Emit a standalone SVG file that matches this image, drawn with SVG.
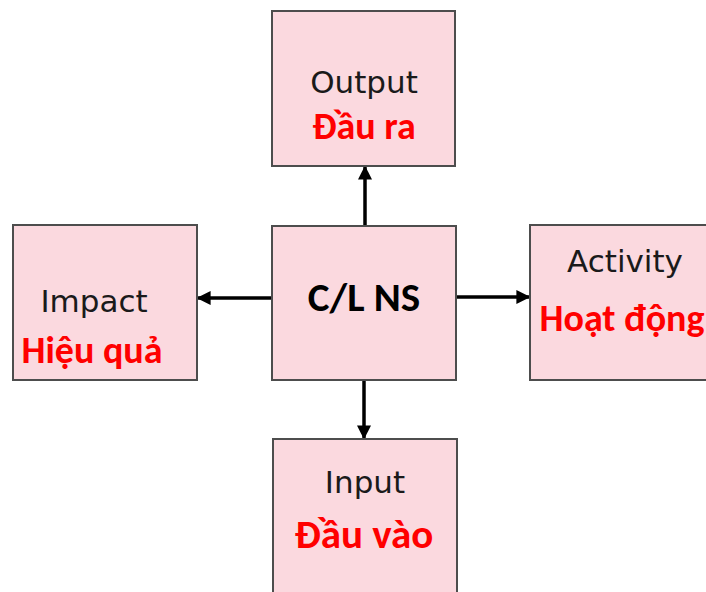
<svg xmlns="http://www.w3.org/2000/svg" width="706" height="592" viewBox="0 0 706 592">
  <defs>
    <marker id="arrow" viewBox="0 0 10 10" refX="9" refY="5" markerWidth="4" markerHeight="4" orient="auto" markerUnits="strokeWidth">
      <path d="M0,0 L10,5 L0,10 z" fill="#000"/>
    </marker>
    <style>
      .box { fill: #fbd9df; stroke: #4d4d4d; stroke-width: 2; }
      .en { font-family: "DejaVu Sans", Verdana, sans-serif; font-size: 31px; fill: #1a1a1a; text-anchor: middle; }
      .vi { font-family: Carlito, "Liberation Sans", Arial, sans-serif; font-weight: bold; font-size: 38px; fill: #ff0000; text-anchor: middle; }
      .hub { font-family: Carlito, "Liberation Sans", Arial, sans-serif; font-weight: bold; font-size: 41px; fill: #000; text-anchor: middle; }
      .link { stroke: #000; stroke-width: 3.5; fill: none; marker-end: url(#arrow); }
    </style>
  </defs>
  <rect width="706" height="592" fill="#ffffff"/>

  <g id="connectors">
    <line class="link" x1="365" y1="226" x2="365" y2="167"/>
    <line class="link" x1="272" y1="298" x2="198" y2="298"/>
    <line class="link" x1="456" y1="297" x2="529" y2="297"/>
    <line class="link" x1="364" y1="380" x2="364" y2="438"/>
  </g>

  <g id="output">
    <rect class="box" x="272" y="11" width="183" height="155"/>
    <text class="en" x="364" y="93">Output</text>
    <text class="vi" x="364" y="139">Đầu ra</text>
  </g>

  <g id="impact">
    <rect class="box" x="13" y="225" width="184" height="155"/>
    <text class="en" x="94" y="312">Impact</text>
    <text class="vi" x="92" y="363">Hiệu quả</text>
  </g>

  <g id="center">
    <rect class="box" x="272" y="226" width="184" height="154"/>
    <text class="hub" x="364" y="311">C/L NS</text>
  </g>

  <g id="activity">
    <rect class="box" x="530" y="225" width="190" height="155"/>
    <text class="en" x="625" y="272">Activity</text>
    <text class="vi" x="622" y="331">Hoạt động</text>
  </g>

  <g id="input">
    <rect class="box" x="273" y="439" width="184" height="170"/>
    <text class="en" x="365" y="493">Input</text>
    <text class="vi" x="364" y="548" style="font-size:41px">Đầu vào</text>
  </g>
</svg>
